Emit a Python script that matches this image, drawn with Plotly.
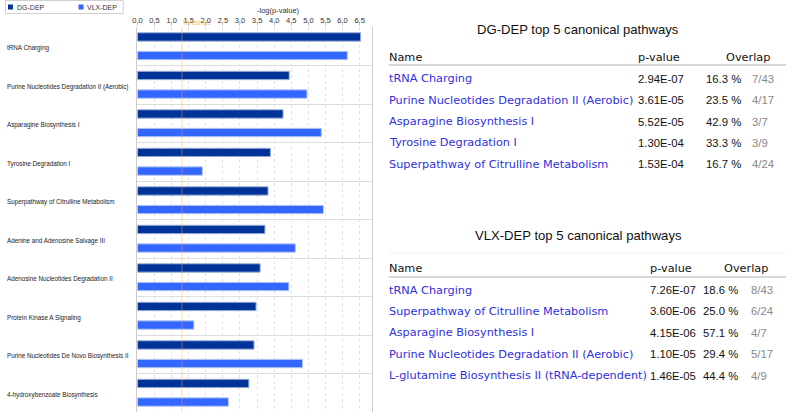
import plotly.graph_objects as go

W, H = 787, 416

# ---------------- data ----------------
pathways = [
    "tRNA Charging",
    "Purine Nucleotides Degradation II (Aerobic)",
    "Asparagine Biosynthesis I",
    "Tyrosine Degradation I",
    "Superpathway of Citrulline Metabolism",
    "Adenine and Adenosine Salvage III",
    "Adenosine Nucleotides Degradation II",
    "Protein Kinase A Signaling",
    "Purine Nucleotides De Novo Biosynthesis II",
    "4-hydroxybenzoate Biosynthesis",
]
dg_dep = [6.53, 4.44, 4.26, 3.89, 3.82, 3.73, 3.59, 3.47, 3.41, 3.26]
vlx_dep = [6.14, 4.96, 5.38, 1.90, 5.44, 4.62, 4.43, 1.65, 4.83, 2.66]
series_names = ["DG-DEP", "VLX-DEP"]
series_colors = ["#003399", "#3366ff"]
threshold = 1.301
x_ticks = [0.0, 0.5, 1.0, 1.5, 2.0, 2.5, 3.0, 3.5, 4.0, 4.5, 5.0, 5.5, 6.0, 6.5]

dg_title = "DG-DEP top 5 canonical pathways"
dg_names = ["tRNA Charging", "Purine Nucleotides Degradation II (Aerobic)",
            "Asparagine Biosynthesis I", "Tyrosine Degradation I",
            "Superpathway of Citrulline Metabolism"]
dg_pvals = ["2.94E-07", "3.61E-05", "5.52E-05", "1.30E-04", "1.53E-04"]
dg_pct = ["16.3 %", "23.5 %", "42.9 %", "33.3 %", "16.7 %"]
dg_frac = ["7/43", "4/17", "3/7", "3/9", "4/24"]

vlx_title = "VLX-DEP top 5 canonical pathways"
vlx_names = ["tRNA Charging", "Superpathway of Citrulline Metabolism",
             "Asparagine Biosynthesis I", "Purine Nucleotides Degradation II (Aerobic)",
             "L-glutamine Biosynthesis II (tRNA-dependent)"]
vlx_pvals = ["7.26E-07", "3.60E-06", "4.15E-06", "1.10E-05", "1.46E-05"]
vlx_pct = ["18.6 %", "25.0 %", "57.1 %", "29.4 %", "44.4 %"]
vlx_frac = ["8/43", "6/24", "4/7", "5/17", "4/9"]

# ---------------- figure ----------------
def px_x(p):
    return p / W

def px_y(p):
    return 1 - p / H

SMALL = "Liberation Sans"
TFONT = "DejaVu Sans"
NFONT = "Liberation Sans"

fig = go.Figure()
fig.add_trace(go.Bar(
    y=pathways, x=dg_dep, orientation="h", name=series_names[0],
    marker=dict(color=series_colors[0], line=dict(color="#9fb0d8", width=1)),
    showlegend=False,
))
fig.add_trace(go.Bar(
    y=pathways, x=vlx_dep, orientation="h", name=series_names[1],
    marker=dict(color=series_colors[1], line=dict(color="#b8c8f0", width=1)),
    showlegend=False,
))

x0, x1 = 133.3, 369.0
y0, y1 = 27.0, 412.0
fig.update_layout(
    width=W, height=H,
    margin=dict(l=0, r=0, t=0, b=0),
    paper_bgcolor="white", plot_bgcolor="white",
    barmode="group", bargap=0.034, bargroupgap=0.55,
    font=dict(family=SMALL, size=8, color="#333"),
    xaxis=dict(domain=[px_x(x0), px_x(x1)], range=[0, (x1 - x0) / 34.4],
               side="top", tickvals=x_ticks, ticktext=[f"{v:.1f}" for v in x_ticks],
               ticks="outside", ticklen=4, tickcolor="#cccccc", ticklabelstandoff=-4,
               showgrid=True, gridcolor="#e2e2e2", griddash="dot", gridwidth=1,
               zeroline=False, showline=False,
               tickfont=dict(family=SMALL, size=7.5, color="#333")),
    yaxis=dict(domain=[px_y(y1), px_y(y0)], autorange="reversed",
               type="category", tickson="boundaries", showticklabels=False,
               ticks="", showgrid=True, gridcolor="#dddddd", gridwidth=1,
               showline=True, linecolor="#cccccc", linewidth=1, mirror=True),
)

# compact legend box (top-left)
fig.add_shape(type="rect", xref="paper", yref="paper", x0=px_x(0.5), x1=px_x(119),
              y0=px_y(13.5), y1=px_y(0.5), line=dict(color="#d0d0d0", width=1),
              fillcolor="white")
for i, (nm, col) in enumerate(zip(series_names, series_colors)):
    lx = 3 + i * 71
    fig.add_shape(type="rect", xref="paper", yref="paper", x0=px_x(lx), x1=px_x(lx + 5),
                  y0=px_y(9.5), y1=px_y(4.5), line=dict(width=0), fillcolor=col)
    fig.add_annotation(text=nm, xref="paper", yref="paper", x=px_x(lx + 7), y=px_y(7),
                       xanchor="left", yanchor="middle", showarrow=False,
                       font=dict(family=SMALL, size=7, color="#333"))

# threshold line and label
fig.add_shape(type="line", xref="x", yref="paper", x0=threshold, x1=threshold,
              y0=px_y(y1), y1=px_y(y0), line=dict(color="rgba(255,170,60,0.3)", width=1.5),
              layer="above")
fig.add_annotation(text="Threshold", xref="x", yref="paper", x=threshold, y=px_y(22),
                   xanchor="left", xshift=-2, yanchor="middle",
                   showarrow=False, font=dict(family=SMALL, size=6.5, color="rgba(240,160,40,0.75)"))

# axis title
fig.add_annotation(text="-log(p-value)", xref="paper", yref="paper", x=px_x(252), y=px_y(10),
                   showarrow=False, yanchor="middle", font=dict(family=SMALL, size=7.5, color="#333"))

# category labels left-aligned
for name in pathways:
    fig.add_annotation(text=name, xref="paper", yref="y", x=0, y=name,
                       xanchor="left", yanchor="middle", yshift=-2, showarrow=False,
                       font=dict(family=SMALL, size=6.3, color="#222"))

# ---------------- tables ----------------
TS = 11.3
NS = 11.3

def table(title, title_y, header_y, row_y0, names, pvals, pcts, fracs, xp, xpct, xfrac, xov, under_y):
    fig.add_annotation(text=title, xref="paper", yref="paper", x=px_x(577), y=px_y(title_y),
                       showarrow=False, xanchor="center", yanchor="middle",
                       font=dict(family="Liberation Sans", size=13.1, color="#111"))
    hf = dict(family=TFONT, size=TS, color="#111")
    for txt, xx in (("Name", 384), ("p-value", xp), ("Overlap", xov)):
        fig.add_annotation(text=txt, xref="paper", yref="paper", x=px_x(xx), y=px_y(header_y),
                           showarrow=False, xanchor="left", yanchor="middle", font=hf)
    fig.add_shape(type="line", xref="paper", yref="paper", x0=px_x(386), x1=px_x(786),
                  y0=px_y(under_y), y1=px_y(under_y), line=dict(color="#d8d8d8", width=2))
    for i in range(len(names)):
        yy = px_y(row_y0 + i * 21.4)
        fig.add_annotation(text=names[i], xref="paper", yref="paper", x=px_x(384), y=yy,
                           showarrow=False, xanchor="left", yanchor="middle",
                           font=dict(family=TFONT, size=TS, color="#3030e0"))
        fig.add_annotation(text=pvals[i], xref="paper", yref="paper", x=px_x(xp), y=yy,
                           showarrow=False, xanchor="left", yanchor="middle",
                           font=dict(family=NFONT, size=NS, color="#111"))
        fig.add_annotation(text=pcts[i], xref="paper", yref="paper", x=px_x(xpct), y=yy,
                           showarrow=False, xanchor="left", yanchor="middle",
                           font=dict(family=NFONT, size=NS, color="#111"))
        fig.add_annotation(text=fracs[i], xref="paper", yref="paper", x=px_x(xfrac), y=yy,
                           showarrow=False, xanchor="left", yanchor="middle",
                           font=dict(family=NFONT, size=NS, color="#888"))

table(dg_title, 30, 57.7, 78.7, dg_names, dg_pvals, dg_pct, dg_frac, 635, 703, 750, 724, 65)
# faint separator above the second table
fig.add_shape(type="line", xref="paper", yref="paper", x0=px_x(386), x1=px_x(786),
              y0=px_y(253), y1=px_y(253), line=dict(color="#f0f0f4", width=1))
table(vlx_title, 235, 268, 290, vlx_names, vlx_pvals, vlx_pct, vlx_frac, 647, 700, 749, 722, 277)

fig.write_html("out.html", config={"displayModeBar": False},
               post_script="document.body.style.margin='0px';")
